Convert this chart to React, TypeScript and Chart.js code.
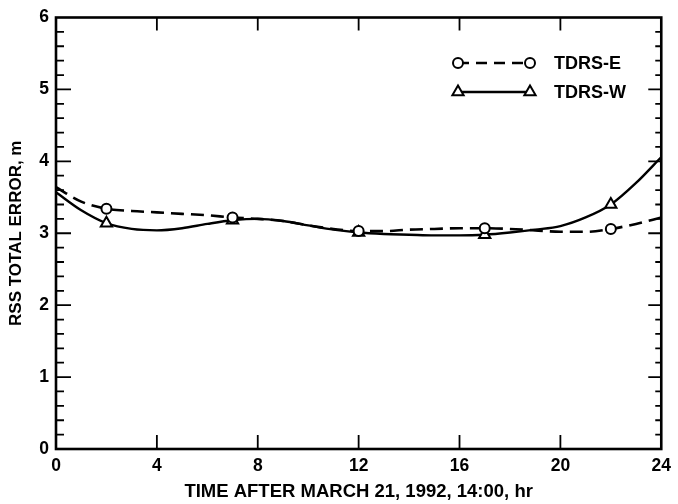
import React, { useEffect, useRef } from "react";
import { Chart, registerables } from "chart.js";

Chart.register(...registerables);

const HOURS = [0, 1, 2, 3, 4, 5, 6, 7, 8, 9, 10, 11, 12, 13, 14, 15, 16, 17, 18, 19, 20, 21, 22, 23, 24];
const TDRS_E = [3.64, 3.44, 3.34, 3.31, 3.29, 3.27, 3.25, 3.22, 3.2, 3.17, 3.11, 3.06, 3.03, 3.03, 3.05, 3.06, 3.07, 3.07, 3.06, 3.04, 3.02, 3.02, 3.06, 3.13, 3.22];
const TDRS_W = [3.57, 3.32, 3.14, 3.06, 3.04, 3.07, 3.13, 3.18, 3.2, 3.17, 3.11, 3.05, 3.01, 2.99, 2.98, 2.97, 2.97, 2.98, 3.01, 3.05, 3.1, 3.22, 3.4, 3.7, 4.06];
const MARKER_HOURS = [2, 7, 12, 17, 22];
const SERIES_NAMES = ["TDRS-E", "TDRS-W"];
const X_TICKS = [0, 4, 8, 12, 16, 20, 24];
const Y_TICKS = [0, 1, 2, 3, 4, 5, 6];
const X_TITLE = "TIME AFTER MARCH 21, 1992, 14:00, hr";
const Y_TITLE = "RSS TOTAL ERROR, m";

const FONT = "'Liberation Sans', Arial, Helvetica, sans-serif";

function drawMarker(ctx: CanvasRenderingContext2D, kind: string, x: number, y: number) {
  ctx.save();
  ctx.setLineDash([]);
  ctx.lineWidth = 2;
  ctx.strokeStyle = "#000";
  ctx.fillStyle = "#fff";
  ctx.beginPath();
  if (kind === "circle") {
    ctx.arc(x, y, 5, 0, Math.PI * 2);
  } else {
    const r = 6.5;
    ctx.moveTo(x, y - r);
    ctx.lineTo(x + r * 0.866, y + r * 0.5);
    ctx.lineTo(x - r * 0.866, y + r * 0.5);
    ctx.closePath();
  }
  ctx.fill();
  ctx.stroke();
  ctx.restore();
}

const framePlugin = {
  id: "frameTicks",
  afterDatasetsDraw(chart: any) {
    const ctx = chart.ctx as CanvasRenderingContext2D;
    const { left, right, top, bottom } = chart.chartArea;
    const xs = chart.scales.x;
    const ys = chart.scales.y;
    ctx.save();
    ctx.strokeStyle = "#000";
    ctx.setLineDash([]);
    ctx.lineWidth = 2.6;
    ctx.strokeRect(left, top, right - left, bottom - top);
    ctx.lineWidth = 1.8;
    ctx.beginPath();
    X_TICKS.forEach((v) => {
      if (v === 0 || v === 24) return;
      const px = xs.getPixelForValue(v);
      ctx.moveTo(px, bottom);
      ctx.lineTo(px, bottom - 14);
      ctx.moveTo(px, top);
      ctx.lineTo(px, top + 13);
    });
    for (let i = 1; i < 30; i++) {
      const v = i / 5;
      const py = ys.getPixelForValue(v);
      const major = i % 5 === 0;
      ctx.moveTo(left, py);
      ctx.lineTo(left + (major ? 15 : 8), py);
      ctx.moveTo(right, py);
      ctx.lineTo(right - (major ? 13 : 6), py);
    }
    ctx.stroke();

    const rows = [
      { name: SERIES_NAMES[0], kind: "circle", dash: [11, 7], y: 63 },
      { name: SERIES_NAMES[1], kind: "triangle", dash: [], y: 92 },
    ];
    const x0 = 458;
    const x1 = 530;
    rows.forEach((r) => {
      ctx.lineWidth = 2.4;
      ctx.setLineDash(r.dash);
      ctx.beginPath();
      ctx.moveTo(x0, r.y);
      ctx.lineTo(x1, r.y);
      ctx.stroke();
      drawMarker(ctx, r.kind, x0, r.y);
      drawMarker(ctx, r.kind, x1, r.y);
      ctx.fillStyle = "#000";
      ctx.font = `bold 18px ${FONT}`;
      ctx.textAlign = "left";
      ctx.textBaseline = "middle";
      ctx.fillText(r.name, 554, r.y + 1);
    });
    ctx.restore();
  },
};

export default function App() {
  const ref = useRef<HTMLCanvasElement | null>(null);

  useEffect(() => {
    if (!ref.current) return;
    const markerRadius = (base: number) => (c: any) =>
      MARKER_HOURS.includes(HOURS[c.dataIndex]) ? base : 0;
    const chart = new Chart(ref.current, {
      type: "line",
      data: {
        datasets: [
          {
            label: SERIES_NAMES[0],
            data: HOURS.map((h, i) => ({ x: h, y: TDRS_E[i] })),
            borderColor: "#000",
            borderWidth: 2.6,
            borderDash: [13, 7],
            cubicInterpolationMode: "monotone",
            pointStyle: "circle",
            pointRadius: markerRadius(5),
            pointBackgroundColor: "#fff",
            pointBorderColor: "#000",
            pointBorderWidth: 2,
            fill: false,
          },
          {
            label: SERIES_NAMES[1],
            data: HOURS.map((h, i) => ({ x: h, y: TDRS_W[i] })),
            borderColor: "#000",
            borderWidth: 2.4,
            cubicInterpolationMode: "monotone",
            pointStyle: "triangle",
            pointRadius: markerRadius(6.5),
            pointBackgroundColor: "#fff",
            pointBorderColor: "#000",
            pointBorderWidth: 2,
            fill: false,
          },
        ],
      },
      options: {
        animation: false,
        responsive: false,
        maintainAspectRatio: false,
        devicePixelRatio: 1,
        layout: { padding: { top: 12, right: 4, left: 0, bottom: 0 } },
        plugins: {
          legend: { display: false },
          tooltip: { enabled: false },
        },
        elements: { line: { borderCapStyle: "butt" } },
        scales: {
          x: {
            type: "linear",
            min: 0,
            max: 24,
            afterBuildTicks: (s: any) => {
              s.ticks = X_TICKS.map((v) => ({ value: v }));
            },
            afterFit: (s: any) => {
              s.height = 55;
            },
            grid: { display: false, drawTicks: false },
            border: { display: false },
            ticks: {
              color: "#000",
              font: { family: FONT, size: 17.5, weight: "bold" },
              padding: 7,
              maxRotation: 0,
              autoSkip: false,
            },
            title: {
              display: true,
              text: X_TITLE,
              color: "#000",
              font: { family: FONT, size: 18.5, weight: "bold" },
              padding: { top: 0, bottom: 1 },
            },
          },
          y: {
            type: "linear",
            min: 0,
            max: 6,
            afterBuildTicks: (s: any) => {
              s.ticks = Y_TICKS.map((v) => ({ value: v }));
            },
            afterFit: (s: any) => {
              s.width = 56;
            },
            grid: { display: false, drawTicks: false },
            border: { display: false },
            ticks: {
              color: "#000",
              font: { family: FONT, size: 17.5, weight: "bold" },
              padding: 7,
              autoSkip: false,
            },
            title: {
              display: true,
              text: Y_TITLE,
              color: "#000",
              font: { family: FONT, size: 17, weight: "bold" },
              padding: { top: 6, bottom: 0 },
            },
          },
        },
      },
      plugins: [framePlugin],
    } as any);
    return () => chart.destroy();
  }, []);

  return (
    <div style={{ position: "fixed", left: 0, top: 0, width: 678, height: 504, background: "#fff" }}>
      <canvas ref={ref} width={678} height={504} style={{ width: 678, height: 504, display: "block" }} />
    </div>
  );
}
